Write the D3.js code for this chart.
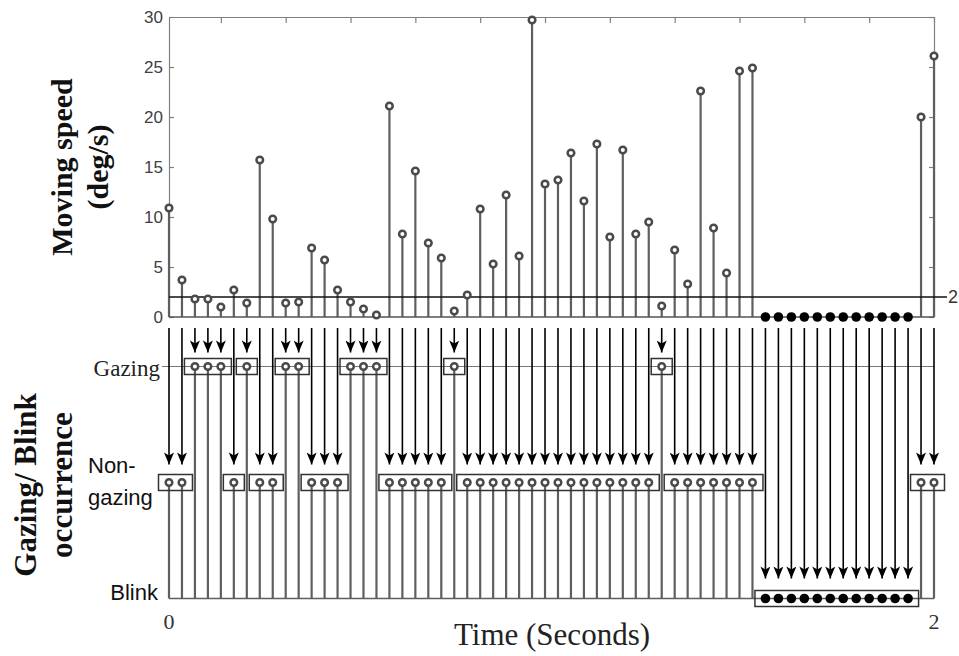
<!DOCTYPE html>
<html lang="en">
<head>
    <meta charset="utf-8">
    <title>Moving speed and gazing / blink occurrence</title>
    <script src="https://d3js.org/d3.v7.min.js"></script>
    <style>
        body { margin: 0; background: #fff; }
        svg { display: block; }
    </style>
</head>
<body>
<div id="chart"></div>
<script>
    // moving speed per frame (deg/s), blink frames have no speed (drawn at 0)
    const speed = [
        10.9, 3.7, 1.8, 1.8, 1.0, 2.7, 1.4, 15.7, 9.8, 1.4,
        1.5, 6.9, 5.7, 2.7, 1.5, 0.8, 0.2, 21.1, 8.3, 14.6,
        7.4, 5.9, 0.6, 2.2, 10.8, 5.3, 12.2, 6.1, 29.7, 13.3,
        13.7, 16.4, 11.6, 17.3, 8.0, 16.7, 8.3, 9.5, 1.1, 6.7,
        3.3, 22.6, 8.9, 4.4, 24.6, 24.9, 0, 0, 0, 0,
        0, 0, 0, 0, 0, 0, 0, 0, 20.0, 26.1
    ];
    // G = gazing, N = non-gazing, B = blink
    const state = [
        'N','N','G','G','G','N','G','N','N','G',
        'G','N','N','N','G','G','G','N','N','N',
        'N','N','G','N','N','N','N','N','N','N',
        'N','N','N','N','N','N','N','N','G','N',
        'N','N','N','N','N','N','B','B','B','B',
        'B','B','B','B','B','B','B','B','N','N'
    ];
    const speedTicks = [0, 5, 10, 15, 20, 25, 30];
    const frameTicks = [5, 10, 15, 20, 25, 30, 35, 40, 45, 50, 55, 60];
    const timeTickFrames = [1, 60];
    const timeTickLabels = ["0", "2"];
    const threshold = 2;
    const thresholdLabel = "2";
    const stateLevel = {B: 0, N: 1, G: 2};

    const width = 959, height = 656;
    const serif = "'Liberation Serif', 'Times New Roman', serif";
    const sans = "'Liberation Sans', Arial, sans-serif";
    const stemColor = "#5f5f5f", markColor = "#4a4a4a";

    const frames = speed.map((d, i) => i + 1);

    const svg = d3.select('#chart').append('svg')
        .attr('width', width).attr('height', height);

    svg.append('defs').append('marker')
        .attr('id', 'ah')
        .attr('viewBox', '0 0 12 10')
        .attr('refX', 12).attr('refY', 5)
        .attr('markerWidth', 13).attr('markerHeight', 10)
        .attr('markerUnits', 'userSpaceOnUse')
        .attr('orient', 'auto')
        .append('path')
        .attr('d', 'M0,0 L12,5 L0,10 L3,5 Z')
        .attr('fill', '#000');

    const x = d3.scaleLinear().domain([1, speed.length]).range([169, 934]);
    const y = d3.scaleLinear().domain([0, 30]).range([317, 17]);
    const yLevel = d3.scaleLinear().domain([0, 2]).range([598.5, 366.5]);

    // ---------- top panel: moving speed ----------
    const axisColor = "#808080";
    const styleAxis = g => {
        g.select('.domain').attr('stroke', axisColor).attr('stroke-width', 1.2);
        g.selectAll('.tick line').attr('stroke', axisColor).attr('stroke-width', 1.2);
    };

    svg.append('g')
        .attr('transform', 'translate(0,17)')
        .call(d3.axisTop(x).tickValues(frameTicks).tickSizeInner(-6).tickSizeOuter(0).tickFormat(''))
        .call(styleAxis);

    svg.append('g')
        .attr('transform', 'translate(934,0)')
        .call(d3.axisRight(y).tickValues(speedTicks).tickSizeInner(-5).tickSizeOuter(0).tickFormat(''))
        .call(styleAxis);

    svg.append('g')
        .attr('transform', 'translate(169,0)')
        .call(d3.axisLeft(y).tickValues(speedTicks).tickSizeInner(-5).tickSizeOuter(0).tickPadding(6))
        .call(styleAxis)
        .call(g => g.selectAll('text')
            .attr('font-family', sans).attr('font-size', 17).attr('fill', '#404040'));

    // stems
    svg.append('g').selectAll('line')
        .data(frames.filter((f, i) => state[i] !== 'B'))
        .join('line')
        .attr('x1', f => x(f)).attr('x2', f => x(f))
        .attr('y1', y(0)).attr('y2', f => y(speed[f - 1]))
        .attr('stroke', stemColor).attr('stroke-width', 2.2);

    // baseline
    svg.append('line')
        .attr('x1', x(1)).attr('x2', x(speed.length))
        .attr('y1', y(0)).attr('y2', y(0))
        .attr('stroke', '#555').attr('stroke-width', 1.5);

    // threshold
    svg.append('line')
        .attr('x1', x(1)).attr('x2', 947)
        .attr('y1', y(threshold)).attr('y2', y(threshold))
        .attr('stroke', '#111').attr('stroke-width', 1.5);
    svg.append('text')
        .attr('x', 948).attr('y', y(threshold))
        .attr('dy', '0.35em')
        .attr('font-family', sans).attr('font-size', 18).attr('fill', '#333')
        .text(thresholdLabel);

    // markers
    const drawMarkers = (sel, cy) => sel
        .attr('cx', f => x(f)).attr('cy', cy)
        .attr('r', f => state[f - 1] === 'B' ? 4.8 : 3.3)
        .attr('fill', f => state[f - 1] === 'B' ? '#000' : '#fff')
        .attr('stroke', f => state[f - 1] === 'B' ? 'none' : markColor)
        .attr('stroke-width', 2.5);

    svg.append('g').selectAll('circle')
        .data(frames)
        .join('circle')
        .call(drawMarkers, f => y(speed[f - 1]));

    // ---------- bottom panel: gazing / blink occurrence ----------
    const arrowTop = 328;
    const tipGap = {G: 14, N: 18, B: 20};

    // gazing reference line
    svg.append('line')
        .attr('x1', 162).attr('x2', x(speed.length))
        .attr('y1', yLevel(2)).attr('y2', yLevel(2))
        .attr('stroke', '#777').attr('stroke-width', 1);

    // baseline of the occurrence stems
    svg.append('line')
        .attr('x1', x(1)).attr('x2', x(speed.length))
        .attr('y1', yLevel(0)).attr('y2', yLevel(0))
        .attr('stroke', stemColor).attr('stroke-width', 1.5);

    // gray stems down to the blink row
    svg.append('g').selectAll('line')
        .data(frames.filter((f, i) => state[i] !== 'B'))
        .join('line')
        .attr('x1', f => x(f)).attr('x2', f => x(f))
        .attr('y1', f => yLevel(stateLevel[state[f - 1]])).attr('y2', yLevel(0))
        .attr('stroke', stemColor).attr('stroke-width', 2.2);

    // arrows
    svg.append('g').selectAll('line')
        .data(frames)
        .join('line')
        .attr('x1', f => x(f)).attr('x2', f => x(f))
        .attr('y1', arrowTop)
        .attr('y2', f => yLevel(stateLevel[state[f - 1]]) - tipGap[state[f - 1]])
        .attr('stroke', '#000').attr('stroke-width', 1.6)
        .attr('marker-end', 'url(#ah)');

    // boxes around runs of the same state
    const runs = [];
    state.forEach((s, i) => {
        const last = runs[runs.length - 1];
        if (last && last.state === s && last.end === i) last.end = i + 1;
        else runs.push({state: s, start: i + 1, end: i + 1});
    });
    svg.append('g').selectAll('rect')
        .data(runs)
        .join('rect')
        .attr('x', d => x(d.start) - 10.5)
        .attr('width', d => x(d.end) - x(d.start) + 21)
        .attr('y', d => yLevel(stateLevel[d.state]) - 8)
        .attr('height', 16)
        .attr('fill', 'none')
        .attr('stroke', '#333').attr('stroke-width', 1.5);

    svg.append('g').selectAll('circle')
        .data(frames)
        .join('circle')
        .call(drawMarkers, f => yLevel(stateLevel[state[f - 1]]));

    // row labels
    svg.append('text')
        .attr('x', 160).attr('y', 376)
        .attr('text-anchor', 'end')
        .attr('font-family', serif).attr('font-size', 23).attr('fill', '#222')
        .text('Gazing');
    svg.append('text')
        .attr('x', 88).attr('y', 473)
        .attr('font-family', sans).attr('font-size', 22).attr('fill', '#111')
        .text('Non-');
    svg.append('text')
        .attr('x', 88).attr('y', 505)
        .attr('font-family', sans).attr('font-size', 22).attr('fill', '#111')
        .text('gazing');
    svg.append('text')
        .attr('x', 158).attr('y', 600)
        .attr('text-anchor', 'end')
        .attr('font-family', sans).attr('font-size', 22).attr('fill', '#111')
        .text('Blink');

    // time ticks
    svg.append('g').selectAll('text')
        .data(timeTickFrames)
        .join('text')
        .attr('x', f => x(f)).attr('y', 629)
        .attr('text-anchor', 'middle')
        .attr('font-family', serif).attr('font-size', 22).attr('fill', '#333')
        .text((f, i) => timeTickLabels[i]);

    svg.append('text')
        .attr('x', 552).attr('y', 645)
        .attr('text-anchor', 'middle')
        .attr('font-family', serif).attr('font-size', 31).attr('fill', '#222')
        .text('Time (Seconds)');

    // axis titles
    const title1 = svg.append('text')
        .attr('transform', 'translate(0,167) rotate(-90)')
        .attr('text-anchor', 'middle')
        .attr('font-family', serif).attr('font-size', 30).attr('font-weight', 'bold').attr('fill', '#111');
    title1.append('tspan').attr('x', 0).attr('y', 72).text('Moving speed');
    title1.append('tspan').attr('x', 0).attr('y', 108).text('(deg/s)');

    const title2 = svg.append('text')
        .attr('transform', 'translate(0,485) rotate(-90)')
        .attr('text-anchor', 'middle')
        .attr('font-family', serif).attr('font-size', 31).attr('font-weight', 'bold').attr('fill', '#111');
    title2.append('tspan').attr('x', 0).attr('y', 36).text('Gazing/ Blink');
    title2.append('tspan').attr('x', 0).attr('y', 72).text('occurrence');
</script>
</body>
</html>
